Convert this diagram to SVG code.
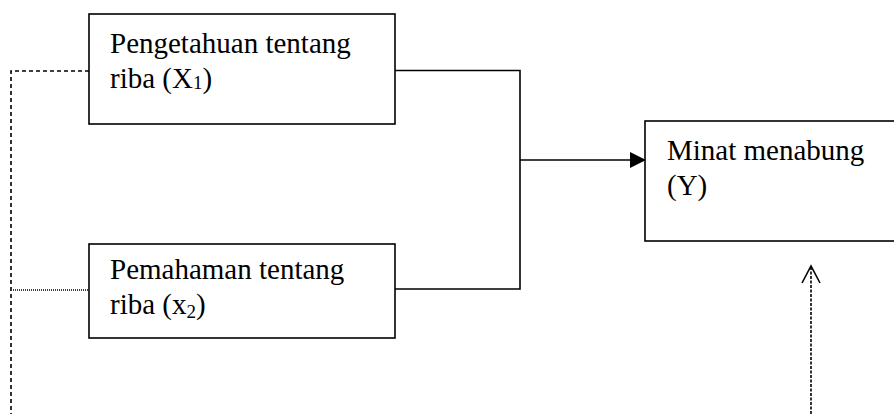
<svg xmlns="http://www.w3.org/2000/svg" width="894" height="414" viewBox="0 0 894 414">
<style>
.box{fill:#fff;stroke:#000;stroke-width:1.6}
.t{font-family:"Liberation Serif","Times New Roman",serif;font-size:29px;fill:#000}
.sub{font-size:19px}
.c{fill:none;stroke:#000;stroke-width:1.6}
</style>
<defs>
<marker id="ah" markerWidth="16" markerHeight="16" refX="15" refY="8" orient="auto" markerUnits="userSpaceOnUse">
<path d="M0,0 L16,8 L0,16 Z" fill="#000"/>
</marker>
</defs>
<rect width="894" height="414" fill="#fff"/>
<g id="connectors">
<polyline class="c" points="395,70.5 520,70.5 520,289 395,289"/>
<line class="c" x1="520" y1="160" x2="645" y2="160" marker-end="url(#ah)"/>
<polyline class="c" points="89,71 11,71 11,414" stroke-dasharray="4,3"/>
<line class="c" x1="13" y1="290" x2="89" y2="290" stroke-width="1.2" stroke-dasharray="1,1"/>
<line class="c" x1="811" y1="414" x2="811" y2="267" stroke-width="1.2" stroke-dasharray="3,1.5"/>
<polyline class="c" points="802,283 811,266 820,283" stroke-width="1.2"/>
</g>
<g id="x1">
<rect class="box" x="89" y="14" width="306" height="110"/>
<text class="t" x="110" y="53">Pengetahuan tentang</text>
<text class="t" x="110" y="88">riba (X<tspan class="sub" dy="1">1</tspan><tspan dy="-1">)</tspan></text>
</g>
<g id="x2">
<rect class="box" x="89" y="244" width="306" height="94"/>
<text class="t" x="110" y="279">Pemahaman tentang</text>
<text class="t" x="110" y="314">riba (x<tspan class="sub" dy="4">2</tspan><tspan dy="-4">)</tspan></text>
</g>
<g id="y">
<rect class="box" x="645" y="121" width="260" height="120"/>
<text class="t" x="667" y="160">Minat menabung</text>
<text class="t" x="667" y="195">(Y)</text>
</g>
</svg>
